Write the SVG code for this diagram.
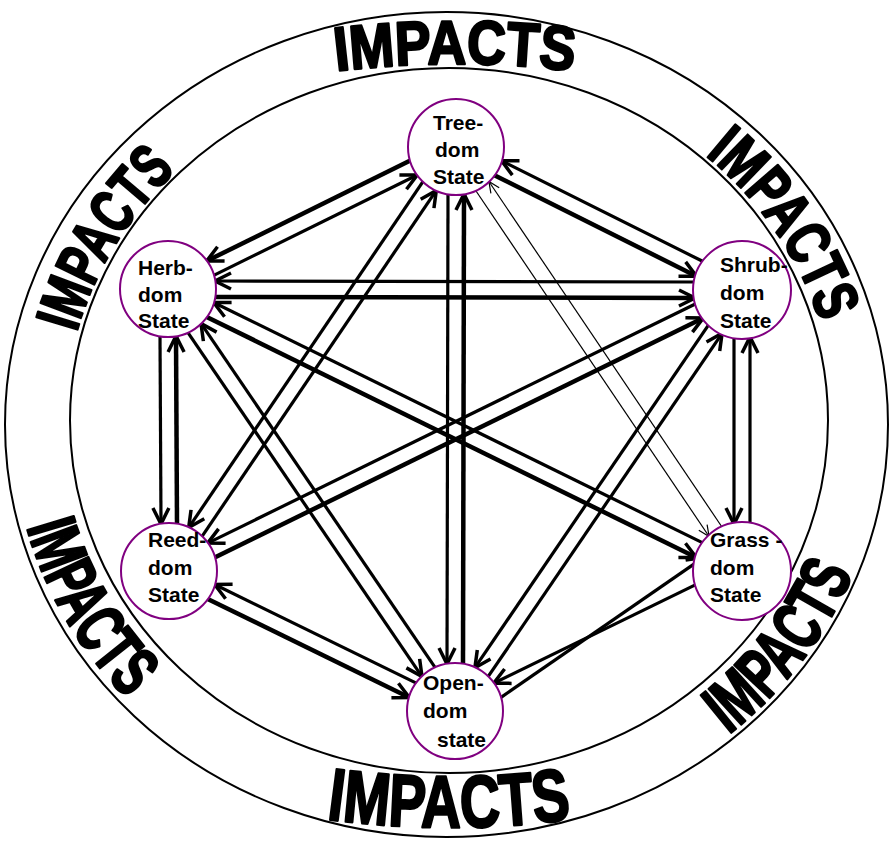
<svg xmlns="http://www.w3.org/2000/svg" width="891" height="841" viewBox="0 0 891 841">
<style>
.ring{fill:none;stroke:#000;stroke-width:2}
.imp{font-family:"Liberation Sans",Arial,sans-serif;font-weight:bold;fill:#000;stroke:#000;stroke-width:2.5;stroke-linejoin:round}
.up{font-size:62px}
.lo{font-size:70px}
.bot{font-size:74px}
.c{fill:none;stroke:#000;stroke-width:3.2;marker-end:url(#ah)}
.k{stroke-width:4.5}
.t{fill:none;stroke:#000;stroke-width:1.2;marker-end:url(#aht)}
.node circle{fill:#fff;stroke:#800080;stroke-width:2}
.node text{font-family:"Liberation Sans",Arial,sans-serif;font-weight:bold;font-size:21px;fill:#000}
</style>
<defs>
<marker id="ah" viewBox="-19 -11 26 22" refX="0" refY="0" markerWidth="26" markerHeight="22" markerUnits="userSpaceOnUse" orient="auto">
<path d="M-16,-8 L0,0 L-16,8" fill="none" stroke="#000" stroke-width="3.5"/>
</marker>
<marker id="aht" viewBox="-14 -8 18 16" refX="0" refY="0" markerWidth="18" markerHeight="16" markerUnits="userSpaceOnUse" orient="auto">
<path d="M-11,-5 L0,0 L-11,5" fill="none" stroke="#000" stroke-width="1.2"/>
</marker>
<path id="pTop" d="M255,84.2 A1000,1000 0 0 1 655,84.2"/>
<path id="pUR" d="M540,76 A384,357 0 0 1 826,505"/>
<path id="pUL" d="M78.9,521.4 A384,357 0 0 1 342.2,79.8"/>
<path id="pBot" d="M249,805 A900,900 0 0 0 649,805"/>
<path id="pLL" d="M31.1,304.0 A436,407 0 0 0 320.5,812.2"/>
<path id="pLR" d="M523.7,823.8 A436,407 0 0 0 877.4,352.3"/>
</defs>

<g id="impacts-ring">
<ellipse class="ring" cx="446.5" cy="424.5" rx="441.5" ry="412.5"/>
<ellipse class="ring" cx="449" cy="420.5" rx="379" ry="352.5"/>
<text class="imp up"><textPath href="#pTop" startOffset="50%" text-anchor="middle" textLength="238" lengthAdjust="spacingAndGlyphs">IMPACTS</textPath></text>
<text class="imp up"><textPath href="#pUR" startOffset="50%" text-anchor="middle" textLength="206" lengthAdjust="spacingAndGlyphs">IMPACTS</textPath></text>
<text class="imp up"><textPath href="#pUL" startOffset="50%" text-anchor="middle" textLength="192" lengthAdjust="spacingAndGlyphs">IMPACTS</textPath></text>
<text class="imp bot"><textPath href="#pBot" startOffset="50%" text-anchor="middle" textLength="246" lengthAdjust="spacingAndGlyphs">IMPACTS</textPath></text>
<text class="imp lo"><textPath href="#pLL" startOffset="50%" text-anchor="middle" textLength="202" lengthAdjust="spacingAndGlyphs">IMPACTS</textPath></text>
<text class="imp lo"><textPath href="#pLR" startOffset="50%" text-anchor="middle" textLength="206" lengthAdjust="spacingAndGlyphs">IMPACTS</textPath></text>
</g>

<g id="connectors">
<line class="c k" x1="410.3" y1="160.6" x2="206.7" y2="261.0"/>
<line class="c" x1="213.7" y1="275.4" x2="417.3" y2="175.0"/>
<line class="c k" x1="494.4" y1="175.2" x2="696.4" y2="276.2"/>
<line class="c" x1="703.6" y1="261.8" x2="501.6" y2="160.8"/>
<line class="c" x1="423.1" y1="181.4" x2="188.7" y2="527.6"/>
<line class="c" x1="201.9" y1="536.6" x2="436.3" y2="190.4"/>
<line class="t" x1="475.7" y1="190.5" x2="709.1" y2="536.5"/>
<line class="t" x1="722.3" y1="527.5" x2="488.9" y2="181.5"/>
<line class="c" x1="448" y1="194" x2="447" y2="664"/>
<line class="c k" x1="463" y1="664" x2="464" y2="194"/>
<line class="c k" x1="215" y1="297" x2="695" y2="298"/>
<line class="c" x1="695" y1="282" x2="215" y2="281"/>
<line class="c" x1="160" y1="336" x2="161" y2="524"/>
<line class="c k" x1="177" y1="524" x2="176" y2="336"/>
<line class="c k" x1="206.7" y1="316.9" x2="696.3" y2="557.5"/>
<line class="c" x1="703.3" y1="543.1" x2="213.7" y2="302.5"/>
<line class="c" x1="187.8" y1="332.4" x2="422.0" y2="676.6"/>
<line class="c" x1="435.2" y1="667.6" x2="201.0" y2="323.4"/>
<line class="c" x1="696.3" y1="303.5" x2="207.7" y2="543.1"/>
<line class="c k" x1="214.7" y1="557.5" x2="703.3" y2="317.9"/>
<line class="c" x1="734" y1="337" x2="734" y2="524"/>
<line class="c" x1="750" y1="524" x2="750" y2="337"/>
<line class="c" x1="708.9" y1="324.3" x2="474.9" y2="667.7"/>
<line class="c" x1="488.1" y1="676.7" x2="722.1" y2="333.3"/>
<line class="c k" x1="207.7" y1="598.9" x2="409.3" y2="697.5"/>
<line class="c" x1="416.3" y1="683.1" x2="214.7" y2="584.5"/>
<line class="c" x1="696.3" y1="584.4" x2="493.7" y2="683.2"/>
<line class="c" x1="500.7" y1="697.6" x2="703.3" y2="557.6"/>
</g>

<g id="node-tree" class="node">
<circle cx="456" cy="147" r="48"/>
<text x="433" y="130">Tree-</text>
<text x="435" y="157">dom</text>
<text x="433" y="184">State</text>
</g>
<g id="node-herb" class="node">
<circle cx="168" cy="289" r="48"/>
<text x="138" y="275">Herb-</text>
<text x="138" y="302">dom</text>
<text x="138" y="328">State</text>
</g>
<g id="node-shrub" class="node">
<circle cx="742" cy="290" r="49"/>
<text x="720" y="272">Shrub-</text>
<text x="720" y="300">dom</text>
<text x="720" y="328">State</text>
</g>
<g id="node-reed" class="node">
<circle cx="169" cy="571" r="48"/>
<text x="148" y="547">Reed-</text>
<text x="148" y="575">dom</text>
<text x="148" y="602">State</text>
</g>
<g id="node-grass" class="node">
<circle cx="742" cy="571" r="49"/>
<text x="710" y="547">Grass -</text>
<text x="710" y="575">dom</text>
<text x="710" y="602">State</text>
</g>
<g id="node-open" class="node">
<circle cx="455" cy="711" r="48"/>
<text x="423" y="690">Open-</text>
<text x="423" y="718">dom</text>
<text x="437" y="747">state</text>
</g>
</svg>
